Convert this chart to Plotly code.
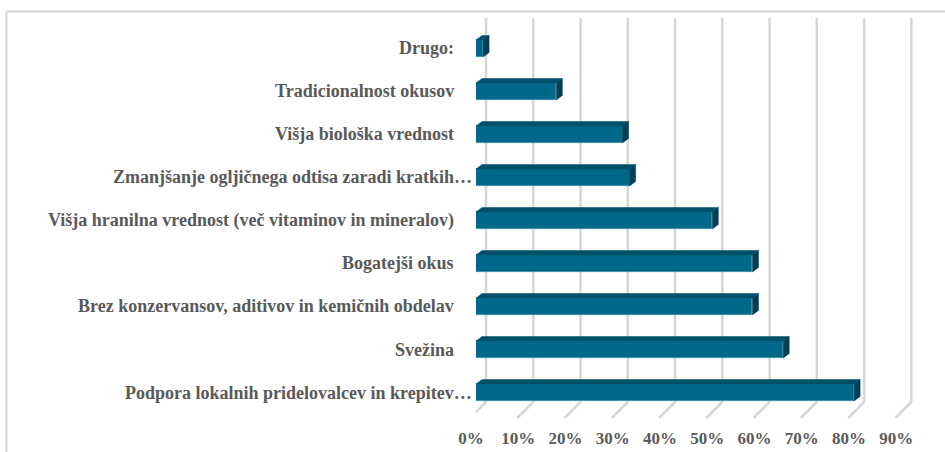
import plotly.graph_objects as go

# ---- data (top-down as in the chart) ----
categories = [
    "Drugo:",
    "Tradicionalnost okusov",
    "Višja biološka vrednost",
    "Zmanjšanje ogljičnega odtisa zaradi kratkih…",
    "Višja hranilna vrednost (več vitaminov in mineralov)",
    "Bogatejši okus",
    "Brez konzervansov, aditivov in kemičnih obdelav",
    "Svežina",
    "Podpora lokalnih pridelovalcev in krepitev…",
]
values = [1.5, 17, 31, 32.5, 50, 58.5, 58.5, 65, 80]
tick_values = [0, 10, 20, 30, 40, 50, 60, 70, 80, 90]
tick_labels = ["0%", "10%", "20%", "30%", "40%", "50%", "60%", "70%", "80%", "90%"]

# bottom-up order for numeric y positions
cats = categories[::-1]
vals = values[::-1]
ypos = list(range(len(cats)))

# ---- style / layout constants ----
W, H = 945, 452
ML, MR, MT, MB = 476, 20, 18, 50
XMAX = 95
plot_w = W - ML - MR
plot_h = H - MT - MB
px_per_x = plot_w / XMAX
Y0, Y1 = -0.221, 8.709
px_per_y = plot_h / (Y1 - Y0)

BAR_W = 0.395
DX = 6 / px_per_x      # depth offset in x data units
DY = 4.5 / px_per_y    # depth offset in y data units

FRONT = "#00698A"
TOP = "#00506B"
SIDE = "#003F56"
TXT = "#595959"
GRID = "#D6D6D6"
BORDER = "#D4D4D4"
FONT = "Liberation Serif"
FS = 18

fig = go.Figure()

# front faces
fig.add_trace(go.Bar(
    x=vals, y=ypos, orientation="h", width=BAR_W,
    marker=dict(color=FRONT, line=dict(color="#2C84A3", width=0.8)),
    hoverinfo="skip", showlegend=False,
))

# top and side faces built from the same values
top_x, top_y, side_x, side_y = [], [], [], []
for y, v in zip(ypos, vals):
    yt = y + BAR_W / 2
    yb = y - BAR_W / 2
    top_x += [0, v, v + DX, DX, 0, None]
    top_y += [yt, yt, yt + DY, yt + DY, yt, None]
    side_x += [v, v + DX, v + DX, v, v, None]
    side_y += [yb, yb + DY, yt + DY, yt, yb, None]

fig.add_trace(go.Scatter(x=top_x, y=top_y, mode="lines", fill="toself",
                         fillcolor=TOP, line=dict(color=TOP, width=0.5),
                         hoverinfo="skip", showlegend=False))
fig.add_trace(go.Scatter(x=side_x, y=side_y, mode="lines", fill="toself",
                         fillcolor=SIDE, line=dict(color=SIDE, width=0.5),
                         hoverinfo="skip", showlegend=False))

shapes = []
# back-wall gridlines and floor diagonals
for t in tick_values:
    shapes.append(dict(type="line", xref="x", xsizemode="pixel", xanchor=t,
                       x0=10, x1=10, yref="paper", y0=0, y1=1,
                       line=dict(color=GRID, width=2.5), layer="below"))
    shapes.append(dict(type="line", xref="x", xsizemode="pixel", xanchor=t,
                       x0=10, x1=-6, yref="paper", ysizemode="pixel", yanchor=0,
                       y0=0, y1=-16,
                       line=dict(color=GRID, width=2.5), layer="below"))
# chart border (top and left edges visible in the frame)
bx0 = (6.5 - ML) / plot_w
bx1 = (W + 20 - ML) / plot_w
by_top = (MT + plot_h - 11.5) / plot_h
by_bot = (MT + plot_h - H - 20) / plot_h
shapes.append(dict(type="line", xref="paper", yref="paper",
                   x0=bx0, x1=bx1, y0=by_top, y1=by_top,
                   line=dict(color=BORDER, width=2)))
shapes.append(dict(type="line", xref="paper", yref="paper",
                   x0=bx0, x1=bx0, y0=by_bot, y1=by_top,
                   line=dict(color=BORDER, width=2)))

# category labels
annotations = []
for y, c in zip(ypos, cats):
    truncated = c.endswith("…")
    annotations.append(dict(
        x=0, xref="paper", y=y, yref="y", text=c, showarrow=False,
        xanchor="right", yanchor="middle", xshift=-2 if truncated else -20,
        font=dict(family=FONT, size=FS, color=TXT, weight="bold"),
    ))

fig.update_layout(
    template="none",
    width=W, height=H,
    margin=dict(l=ML, r=MR, t=MT, b=MB, pad=0, autoexpand=False),
    paper_bgcolor="white", plot_bgcolor="rgba(0,0,0,0)",
    shapes=shapes, annotations=annotations,
    bargap=0,
    xaxis=dict(range=[0, XMAX], tickvals=tick_values, ticktext=tick_labels,
               showgrid=False, zeroline=False, showline=False, automargin=False,
               ticks="outside", ticklen=21, tickcolor="rgba(0,0,0,0)",
               ticklabelshift=-5,
               tickfont=dict(family=FONT, size=17, color=TXT, weight="bold")),
    yaxis=dict(range=[Y0, Y1], showticklabels=False, showgrid=False,
               zeroline=False, showline=False, automargin=False),
)

fig.write_html("out.html", config={"displayModeBar": False},
               post_script="document.body.style.margin='0';")
